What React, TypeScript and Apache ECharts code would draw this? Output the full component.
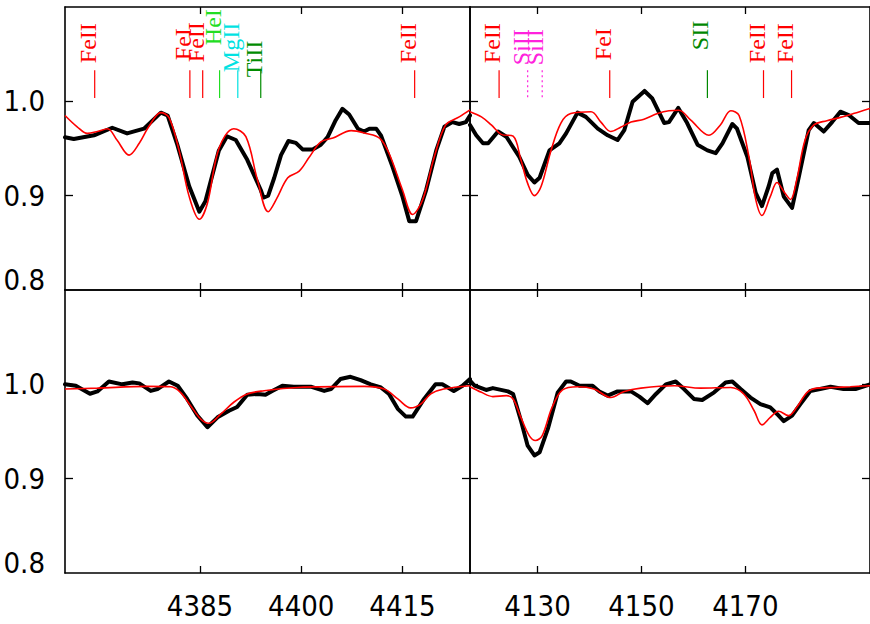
import React, { useEffect, useRef } from "react";
import * as echarts from "echarts";

// ---------- data ----------
// top-left panel (4365-4425 Å)
const tlObsWave = [4365.0, 4366.3, 4369.3, 4372.0, 4374.2, 4376.7, 4379.2, 4380.2, 4381.6, 4383.4, 4384.9, 4385.8, 4387.8, 4389.0, 4390.3, 4392.0, 4394.0, 4394.4, 4395.1, 4396.0, 4397.0, 4398.1, 4399.2, 4400.2, 4401.7, 4402.9, 4403.9, 4405.1, 4406.1, 4407.1, 4408.4, 4409.3, 4410.1, 4411.1, 4411.8, 4413.5, 4415.0, 4416.0, 4417.0, 4418.5, 4420.0, 4421.2, 4422.4, 4423.4, 4424.4, 4425.0];
const tlObsFlux = [0.962, 0.960, 0.964, 0.972, 0.966, 0.971, 0.988, 0.985, 0.955, 0.910, 0.883, 0.894, 0.948, 0.963, 0.959, 0.938, 0.906, 0.898, 0.900, 0.919, 0.943, 0.958, 0.956, 0.949, 0.949, 0.954, 0.962, 0.980, 0.992, 0.986, 0.971, 0.968, 0.971, 0.971, 0.964, 0.931, 0.899, 0.873, 0.873, 0.906, 0.948, 0.973, 0.978, 0.976, 0.978, 0.985];
const tlModWave = [4365.0, 4366.8, 4368.3, 4369.8, 4371.3, 4372.7, 4374.5, 4376.0, 4377.4, 4379.2, 4380.4, 4381.9, 4383.4, 4384.9, 4386.1, 4387.8, 4390.0, 4391.8, 4393.5, 4395.1, 4396.3, 4398.0, 4399.7, 4401.2, 4402.9, 4404.7, 4407.4, 4409.6, 4411.6, 4413.0, 4415.0, 4416.5, 4418.0, 4419.7, 4421.4, 4423.4, 4425.0];
const tlModFlux = [0.985, 0.973, 0.966, 0.968, 0.971, 0.959, 0.943, 0.9555, 0.973, 0.988, 0.983, 0.948, 0.899, 0.875, 0.892, 0.950, 0.971, 0.9625, 0.917, 0.883, 0.896, 0.919, 0.926, 0.941, 0.957, 0.961, 0.969, 0.966, 0.961, 0.945, 0.906, 0.880, 0.896, 0.941, 0.975, 0.9835, 0.991];

// top-right panel (4117-4194 Å)
const trObsWave = [4117.0, 4118.2, 4119.5, 4120.5, 4122.4, 4124.0, 4126.5, 4128.1, 4129.4, 4130.4, 4132.3, 4134.2, 4135.5, 4137.7, 4139.3, 4141.6, 4143.5, 4145.4, 4146.7, 4148.3, 4150.6, 4152.1, 4154.4, 4155.3, 4157.1, 4158.8, 4160.8, 4162.7, 4164.3, 4165.6, 4167.5, 4168.4, 4170.4, 4172.0, 4173.2, 4174.5, 4175.2, 4176.1, 4177.4, 4179.0, 4180.3, 4182.2, 4183.2, 4185.1, 4186.7, 4188.3, 4189.9, 4191.8, 4194.0];
const trObsFlux = [0.975, 0.964, 0.9555, 0.9555, 0.968, 0.9625, 0.941, 0.922, 0.914, 0.919, 0.948, 0.9555, 0.966, 0.988, 0.9835, 0.971, 0.964, 0.959, 0.9695, 0.9995, 1.011, 1.003, 0.977, 0.978, 0.993, 0.977, 0.954, 0.948, 0.945, 0.9555, 0.976, 0.971, 0.941, 0.903, 0.889, 0.910, 0.924, 0.9275, 0.899, 0.887, 0.920, 0.9695, 0.977, 0.968, 0.978, 0.989, 0.9855, 0.977, 0.977];
const trModWave = [4117.0, 4119.2, 4121.1, 4123.0, 4125.3, 4126.8, 4128.1, 4129.4, 4130.7, 4132.6, 4134.5, 4136.4, 4140.3, 4142.2, 4144.1, 4146.0, 4148.0, 4150.5, 4153.1, 4155.3, 4157.2, 4159.5, 4163.0, 4165.2, 4167.2, 4168.8, 4170.7, 4172.0, 4173.2, 4174.8, 4176.1, 4177.4, 4178.7, 4179.9, 4181.5, 4183.2, 4185.7, 4188.3, 4190.8, 4194.0];
const trModFlux = [0.989, 0.9835, 0.975, 0.965, 0.963, 0.938, 0.913, 0.900, 0.910, 0.948, 0.977, 0.987, 0.989, 0.978, 0.968, 0.9725, 0.978, 0.981, 0.987, 0.990, 0.9905, 0.980, 0.964, 0.975, 0.990, 0.985, 0.941, 0.896, 0.879, 0.899, 0.914, 0.9045, 0.896, 0.917, 0.959, 0.975, 0.9795, 0.983, 0.987, 0.9925];

// bottom-left panel
const blObsWave = [4365.0, 4366.6, 4368.7, 4369.8, 4371.5, 4373.5, 4375.0, 4376.0, 4377.7, 4378.7, 4380.4, 4381.7, 4383.1, 4384.6, 4386.1, 4387.6, 4389.3, 4390.5, 4392.0, 4393.5, 4394.7, 4395.7, 4397.2, 4398.9, 4401.4, 4403.4, 4404.4, 4405.8, 4407.3, 4408.8, 4410.3, 4411.8, 4413.0, 4414.3, 4415.5, 4416.5, 4418.2, 4419.9, 4420.9, 4422.6, 4423.9, 4425.0];
const blObsFlux = [1.000, 0.9985, 0.990, 0.9925, 1.003, 1.000, 1.002, 1.001, 0.993, 0.995, 1.003, 0.9985, 0.9845, 0.967, 0.9545, 0.965, 0.972, 0.976, 0.989, 0.9898, 0.989, 0.993, 0.9985, 0.9975, 0.9975, 0.993, 0.995, 1.0056, 1.008, 1.0045, 1.000, 0.9967, 0.9898, 0.974, 0.9658, 0.9658, 0.9845, 1.000, 1.000, 0.993, 0.9985, 1.0056];
const blModWave = [4365.0, 4369.8, 4377.2, 4380.7, 4382.1, 4383.6, 4385.1, 4386.3, 4388.1, 4390.0, 4392.0, 4394.5, 4399.4, 4409.3, 4412.3, 4414.3, 4416.2, 4417.7, 4419.2, 4421.1, 4425.0];
const blModFlux = [0.995, 0.996, 0.9978, 0.9975, 0.9915, 0.9774, 0.9633, 0.9587, 0.9686, 0.981, 0.9898, 0.9932, 0.9967, 0.9978, 0.995, 0.9845, 0.975, 0.979, 0.9898, 0.995, 0.9985];

// bottom-right panel
const brObsWave = [4117.0, 4117.9, 4120.1, 4121.4, 4124.3, 4125.3, 4126.8, 4128.1, 4129.4, 4130.4, 4132.0, 4133.9, 4135.5, 4136.4, 4138.1, 4140.6, 4141.9, 4143.5, 4145.4, 4148.0, 4149.6, 4151.2, 4152.8, 4154.7, 4156.6, 4158.2, 4160.1, 4161.7, 4164.0, 4166.2, 4167.5, 4169.1, 4171.0, 4172.9, 4174.8, 4176.1, 4177.4, 4179.0, 4180.6, 4182.5, 4184.4, 4186.4, 4188.9, 4191.2, 4194.0];
const brObsFlux = [1.004, 0.9985, 0.994, 0.996, 0.9925, 0.9898, 0.9616, 0.935, 0.9246, 0.928, 0.953, 0.9915, 1.003, 1.003, 0.9985, 0.9985, 0.9925, 0.988, 0.9925, 0.9925, 0.987, 0.980, 0.9898, 1.000, 1.003, 0.995, 0.9845, 0.9834, 0.9915, 1.002, 1.003, 0.995, 0.986, 0.979, 0.9756, 0.9686, 0.961, 0.9668, 0.979, 0.993, 0.995, 0.9975, 0.995, 0.995, 1.0];
const brModWave = [4117.0, 4119.2, 4121.4, 4124.0, 4125.3, 4126.8, 4128.4, 4129.6, 4130.9, 4132.8, 4134.8, 4137.7, 4140.9, 4144.1, 4146.7, 4149.9, 4156.3, 4161.4, 4167.2, 4169.7, 4171.7, 4173.2, 4174.8, 4176.4, 4178.3, 4179.9, 4181.9, 4183.8, 4187.0, 4190.2, 4194.0];
const brModFlux = [0.9975, 0.9915, 0.987, 0.988, 0.9845, 0.965, 0.9457, 0.9404, 0.9457, 0.9756, 0.994, 0.9975, 0.995, 0.986, 0.9925, 0.996, 0.9985, 0.996, 0.9967, 0.9898, 0.972, 0.957, 0.965, 0.9714, 0.9668, 0.9756, 0.9915, 0.996, 0.9967, 0.9975, 0.9985];

// line identifications
const leftLineWave = [4369.4, 4383.5, 4385.4, 4387.9, 4390.6, 4394.0, 4416.8];
const leftLineIon = ["FeII", "FeI", "FeII", "HeI", "MgII", "TiII", "FeII"];
const rightLineWave = [4122.6, 4128.1, 4130.9, 4143.9, 4162.7, 4173.5, 4178.9];
const rightLineIon = ["FeII", "SiII", "SiII", "FeI", "SII", "FeII", "FeII"];

// axis ranges & ticks
const leftRange = [4365, 4425];
const rightRange = [4117, 4194];
const leftTicks = [4385, 4400, 4415];
const rightTicks = [4130, 4150, 4170];
const yTicks = [0.9, 1.0];
const yLabels = [0.8, 0.9, 1.0];

// ---------- layout / style (not data) ----------
const ionColor: Record<string, string> = {
  FeII: "#ff0000",
  FeI: "#ff0000",
  HeI: "#22dd22",
  MgII: "#00e2e2",
  TiII: "#008c00",
  SiII: "#ff22dd",
  SII: "#008800",
};
const leftLabelLift = [7, 10, 8, 25, -2, -7, 7];
const rightLabelLift = [7, 5, 5, 10, 20, 7, 7];
const MARK_TOP = 1.033;
const MARK_BOTTOM = 1.0035;
const NUM_FONT = '"Liberation Sans Narrow", "DejaVu Sans Condensed", sans-serif';
const NUM_SIZE = 29;
const ION_FAMILY = '"Liberation Serif", "DejaVu Serif", serif';
const ION_SIZE = 24;

const zip = (a: number[], b: number[]) => a.map((v, i) => [v, b[i]]);

export default function App() {
  const ref = useRef<HTMLDivElement>(null);

  useEffect(() => {
    if (!ref.current) return;
    const chart = echarts.init(ref.current, null, { renderer: "svg" });

    const grids = [
      { left: 65, top: 7, width: 405, height: 283 },
      { left: 470, top: 7, width: 401, height: 283 },
      { left: 65, top: 290, width: 405, height: 283 },
      { left: 470, top: 290, width: 401, height: 283 },
    ];
    const panels = [
      { range: leftRange, ticks: leftTicks, showX: false, showY: true },
      { range: rightRange, ticks: rightTicks, showX: false, showY: false },
      { range: leftRange, ticks: leftTicks, showX: true, showY: true },
      { range: rightRange, ticks: rightTicks, showX: true, showY: false },
    ];

    const axisLine = { show: true, onZero: false, lineStyle: { color: "#000", width: 1.6 } };
    const tickStyle = { color: "#000", width: 1.3 };

    const xAxis: any[] = [];
    const yAxis: any[] = [];
    panels.forEach((p, i) => {
      xAxis.push({
        type: "value", gridIndex: i, position: "bottom", min: p.range[0], max: p.range[1],
        axisLine,
        axisTick: { show: true, inside: true, length: 7, customValues: p.ticks, lineStyle: tickStyle },
        axisLabel: {
          show: p.showX, customValues: p.ticks, margin: 18, fontSize: NUM_SIZE, color: "#000",
          fontFamily: NUM_FONT, formatter: (v: number) => String(Math.round(v)),
        },
        splitLine: { show: false },
      });
      xAxis.push({
        type: "value", gridIndex: i, position: "top", min: p.range[0], max: p.range[1],
        axisLine,
        axisTick: { show: true, inside: true, length: 7, customValues: p.ticks, lineStyle: tickStyle },
        axisLabel: { show: false },
        splitLine: { show: false },
      });
      yAxis.push({
        type: "value", gridIndex: i, position: "left", min: 0.8, max: 1.1,
        axisLine,
        axisTick: { show: true, inside: true, length: 8, customValues: yTicks, lineStyle: tickStyle },
        axisLabel: {
          show: p.showY, customValues: yLabels, margin: 20, fontSize: NUM_SIZE, color: "#000",
          fontFamily: NUM_FONT,
          formatter: (v: number) => (v < 0.85 ? "{low|" + v.toFixed(1) + "}" : v.toFixed(1)),
          rich: { low: { fontSize: NUM_SIZE, fontFamily: NUM_FONT, color: "#000", padding: [0, 0, 20, 0] } },
        },
        splitLine: { show: false },
      });
      yAxis.push({
        type: "value", gridIndex: i, position: "right", min: 0.8, max: 1.1,
        axisLine,
        axisTick: { show: true, inside: true, length: 8, customValues: yTicks, lineStyle: tickStyle },
        axisLabel: { show: false },
        splitLine: { show: false },
      });
    });

    const spectra = [
      [tlObsWave, tlObsFlux, tlModWave, tlModFlux],
      [trObsWave, trObsFlux, trModWave, trModFlux],
      [blObsWave, blObsFlux, blModWave, blModFlux],
      [brObsWave, brObsFlux, brModWave, brModFlux],
    ];

    const series: any[] = [];
    spectra.forEach((s, i) => {
      series.push({
        type: "line", xAxisIndex: 2 * i, yAxisIndex: 2 * i, data: zip(s[0], s[1]),
        showSymbol: false, symbol: "none", z: 2,
        lineStyle: { color: "#000", width: 4, join: "round", cap: "round" },
      });
      series.push({
        type: "line", xAxisIndex: 2 * i, yAxisIndex: 2 * i, data: zip(s[2], s[3]),
        showSymbol: false, symbol: "none", smooth: 0.35, z: 3,
        lineStyle: { color: "#ff0000", width: 1.6 },
      });
    });

    const markers = (waves: number[], ions: string[], lifts: number[], gi: number) => ({
      type: "custom", xAxisIndex: 2 * gi, yAxisIndex: 2 * gi, z: 4, clip: false,
      data: waves.map((w) => [w, 1.0]),
      renderItem: (params: any, api: any) => {
        const idx = params.dataIndex;
        const w = api.value(0);
        const top = api.coord([w, MARK_TOP]);
        const bot = api.coord([w, MARK_BOTTOM]);
        const ion = ions[idx];
        const color = ionColor[ion];
        const dotted = ion === "SiII";
        return {
          type: "group",
          children: [
            {
              type: "line",
              shape: { x1: top[0], y1: top[1], x2: bot[0], y2: bot[1] },
              style: { stroke: color, lineWidth: 1.2, lineDash: dotted ? [2, 3] : null },
            },
            {
              type: "text",
              x: top[0] + 5,
              y: top[1] - lifts[idx],
              rotation: Math.PI / 2,
              style: {
                text: ion, fill: color,
                font: ION_SIZE + "px " + ION_FAMILY,
                fontSize: ION_SIZE, fontFamily: ION_FAMILY,
                align: "left", verticalAlign: "bottom",
              },
            },
          ],
        };
      },
    });
    series.push(markers(leftLineWave, leftLineIon, leftLabelLift, 0));
    series.push(markers(rightLineWave, rightLineIon, rightLabelLift, 1));

    chart.setOption({
      animation: false,
      backgroundColor: "#fff",
      grid: grids,
      xAxis,
      yAxis,
      series,
    });

    return () => chart.dispose();
  }, []);

  return (
    <div
      ref={ref}
      style={{ position: "absolute", left: 0, top: 0, width: 870, height: 624 }}
    />
  );
}
